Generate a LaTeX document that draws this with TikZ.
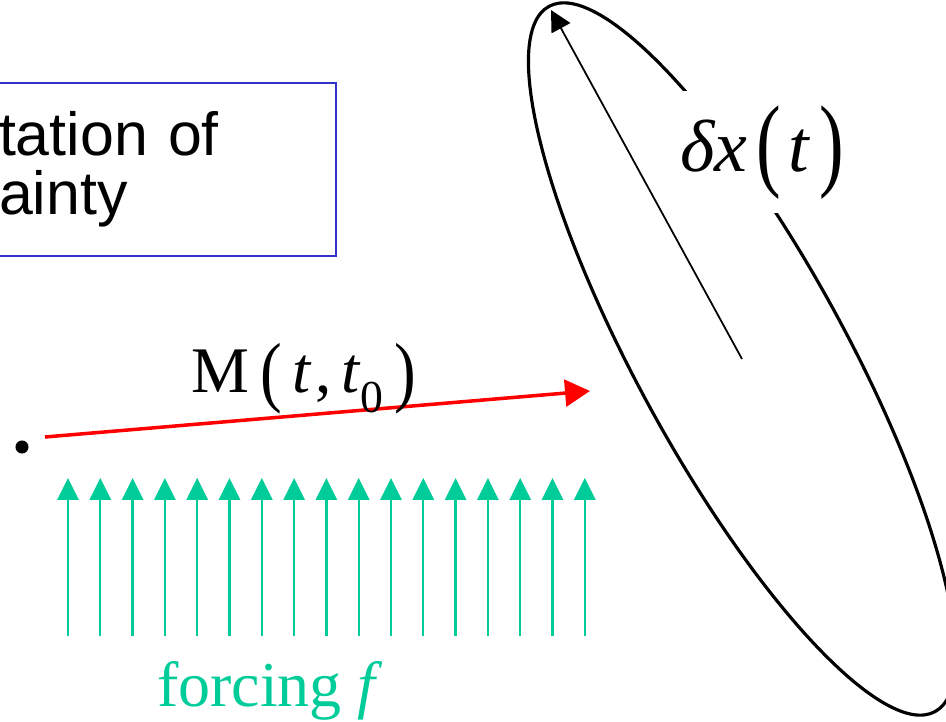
\documentclass[tikz,border=0pt]{standalone}
\usepackage{fontspec}
\setmainfont{Liberation Serif}
\newfontfamily\arialfont{Liberation Sans}
\usepackage{graphicx}
\usepackage{tikz}
\usetikzlibrary{arrows.meta}
\definecolor{myred}{RGB}{255,0,0}
\definecolor{mygreen}{RGB}{0,204,153}
\definecolor{myblue}{RGB}{51,51,204}
\newcommand{\tallpar}[2]{\raisebox{-0.07em}{\scalebox{1}[#1]{#2}}}
\tikzset{
  infobox/.style={rectangle, draw=myblue, fill=white, line width=0.6pt,
    font=\arialfont\fontsize{17.3}{16.8}\selectfont, align=left,
    text width=2.99cm, inner xsep=0.38cm, minimum height=1.73cm},
  dotnode/.style={circle, fill=black, minimum size=0.13cm, inner sep=0pt},
  maparrow/.style={-{Triangle[length=7.1pt, width=7.6pt]}, line width=1pt, color=myred},
  forcearrow/.style={-{Triangle[length=6.2pt, width=6pt]}, line width=0.65pt, color=mygreen},
  spreadarrow/.style={-{Triangle[length=5.9pt, width=6pt]}, line width=0.5pt, color=black},
  ellipseline/.style={line width=0.9pt, color=black},
  maplabel/.style={font=\fontsize{18.5}{18.5}\selectfont, inner sep=0pt},
  forcelabel/.style={font=\fontsize{18.2}{18.2}\selectfont, text=mygreen, inner sep=0pt},
  dxlabel/.style={font=\fontsize{21}{21}\selectfont, fill=white, inner xsep=0.04cm,
    minimum height=1.22cm}
}

\begin{document}
\begin{tikzpicture}[x=0.01cm, y=-0.01cm]
  \useasboundingbox (0,0) rectangle (946,722);
  \clip (0,0) rectangle (946,722);

  % Box (cut at the left edge)
  \node[infobox, anchor=north west] (info) at (-40,82) {tation of\\ainty};

  % Initial point and propagation
  \node[dotnode] (x0) at (22,447) {};
  \coordinate (mstart) at (45,437);
  \coordinate (mend) at (590,391);
  \draw[maparrow] (mstart) -- (mend);
  \node[maplabel, anchor=base] (mlabel) at (304,393)
    {M\,\tallpar{1.2}{(}\,\textit{t}\hspace{0.05em},\hspace{0.15em}\textit{t}\raisebox{-0.3em}{\fontsize{13}{13}\selectfont 0}\,\tallpar{1.2}{)}};

  % Forcing
  \foreach \i in {0,...,16} {
    \coordinate (fb\i) at ({68+32.3*\i},636);
    \coordinate (ft\i) at ({68+32.3*\i},478);
    \draw[forcearrow] (fb\i) -- (ft\i);
  }
  \node[forcelabel, anchor=base] (flabel) at (270,706) {forcing \textit{f}};

  % Uncertainty ellipse
  \coordinate (ctr) at (742,359);
  \coordinate (top) at (551,10);
  \draw[ellipseline, rotate around={118.7:(ctr)}] (ctr) ellipse [x radius=402, y radius=104];
  \node[dxlabel, anchor=base] (dx) at (762,172)
    {\textit{δx}\hspace{0.12em}\tallpar{1.4}{(}\hspace{0.1em}\textit{t}\hspace{0.12em}\tallpar{1.4}{)}};
  \draw[spreadarrow] (ctr) -- (top);
\end{tikzpicture}
\end{document}
